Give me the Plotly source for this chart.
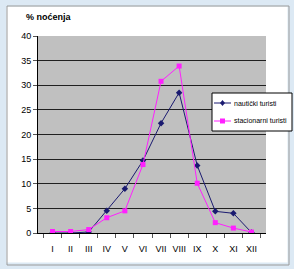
import plotly.graph_objects as go

months = ["I", "II", "III", "IV", "V", "VI", "VII", "VIII", "IX", "X", "XI", "XII"]
nauticki = [0, 0, 0.2, 4.5, 9.0, 14.7, 22.3, 28.5, 13.7, 4.4, 4.0, 0.1]
stacionarni = [0.3, 0.3, 0.7, 3.1, 4.5, 13.9, 30.8, 33.9, 10.1, 2.1, 1.0, 0.2]
y_ticks = [0, 5, 10, 15, 20, 25, 30, 35, 40]
series_names = ["nautički turisti", "stacionarni turisti"]
series_colors = ["#1a1a70", "#ff20ff"]
series_symbols = ["diamond", "square"]

W, H = 294, 269
L, R, T, B = 38, 28, 36, 36
pw, ph = W - L - R, H - T - B

def px(x):
    return (x - L) / pw

def py(y):
    return (H - B - y) / ph

fig = go.Figure()
for name, vals, col, sym in zip(series_names, [nauticki, stacionarni], series_colors, series_symbols):
    fig.add_trace(go.Scatter(
        x=months, y=vals, name=name, mode="lines+markers",
        line=dict(color=col, width=1),
        marker=dict(symbol=sym, size=5, color=col),
        showlegend=False, hoverinfo="skip",
    ))

# outer frame
fig.add_shape(type="rect", xref="paper", yref="paper",
              x0=px(0), x1=px(W), y0=py(H), y1=py(0),
              fillcolor="rgba(0,0,0,0)", line=dict(color="#dce9f4", width=13), layer="below")
fig.add_shape(type="rect", xref="paper", yref="paper",
              x0=px(7), x1=px(289), y0=py(265), y1=py(6),
              fillcolor="rgba(0,0,0,0)", line=dict(color="#9a9a9a", width=1), layer="below")

fig.add_annotation(text="<b>% noćenja</b>", xref="paper", yref="paper",
                   x=px(24), y=py(17), xanchor="left", yanchor="middle",
                   showarrow=False, font=dict(size=9, color="black"))

# legend box (drawn manually to match the compact original)
lx0, lx1, ly0, ly1 = 212, 292, 93, 131
fig.add_shape(type="rect", xref="paper", yref="paper",
              x0=px(lx0), x1=px(lx1), y0=py(ly1), y1=py(ly0),
              fillcolor="white", line=dict(color="black", width=1), layer="above")
row_y = [103, 121]
for name, col, sym, ry in zip(series_names, series_colors, series_symbols, row_y):
    fig.add_shape(type="line", xref="paper", yref="paper",
                  x0=px(214), x1=px(231), y0=py(ry), y1=py(ry),
                  line=dict(color=col, width=1), layer="above")
    half = 2.5
    if sym == "square":
        path = "M {0},{1} L {2},{1} L {2},{3} L {0},{3} Z".format(
            px(222.5 - half), py(ry - half), px(222.5 + half), py(ry + half))
    else:
        path = "M {0},{1} L {2},{3} L {0},{4} L {5},{3} Z".format(
            px(222.5), py(ry - 3), px(222.5 + 2.5), py(ry), py(ry + 3), px(222.5 - 2.5))
    fig.add_shape(type="path", xref="paper", yref="paper", path=path,
                  fillcolor=col, line=dict(color=col, width=0), layer="above")
    fig.add_annotation(text=name, xref="paper", yref="paper",
                       x=px(232), y=py(ry), xanchor="left", yanchor="middle",
                       showarrow=False,
                       font=dict(size=7, color="black",
                                 family="Liberation Sans Narrow, Liberation Sans, Arial"))

fig.update_layout(
    width=W, height=H,
    margin=dict(l=L, r=R, t=T, b=B, autoexpand=False),
    paper_bgcolor="white",
    plot_bgcolor="#c0c0c0",
    font=dict(family="Liberation Sans Narrow, Liberation Sans, Arial", size=9, color="black"),
    showlegend=False,
    hovermode=False,
    xaxis=dict(showline=True, linecolor="black", linewidth=1, ticks="outside",
               tickson="boundaries", ticklen=4, tickcolor="#555555", tickangle=0,
               ticklabelstandoff=7, showgrid=False, automargin=False),
    yaxis=dict(range=[0, 40], tickvals=y_ticks, showline=True, linecolor="black",
               linewidth=1, ticks="outside", ticklen=4, tickcolor="#555555",
               showgrid=True, gridcolor="#202020", gridwidth=1, zeroline=False,
               automargin=False),
)

fig.write_html("out.html", config={"displayModeBar": False, "staticPlot": True},
               post_script="document.body.style.margin='0px';document.body.style.overflow='hidden';")
